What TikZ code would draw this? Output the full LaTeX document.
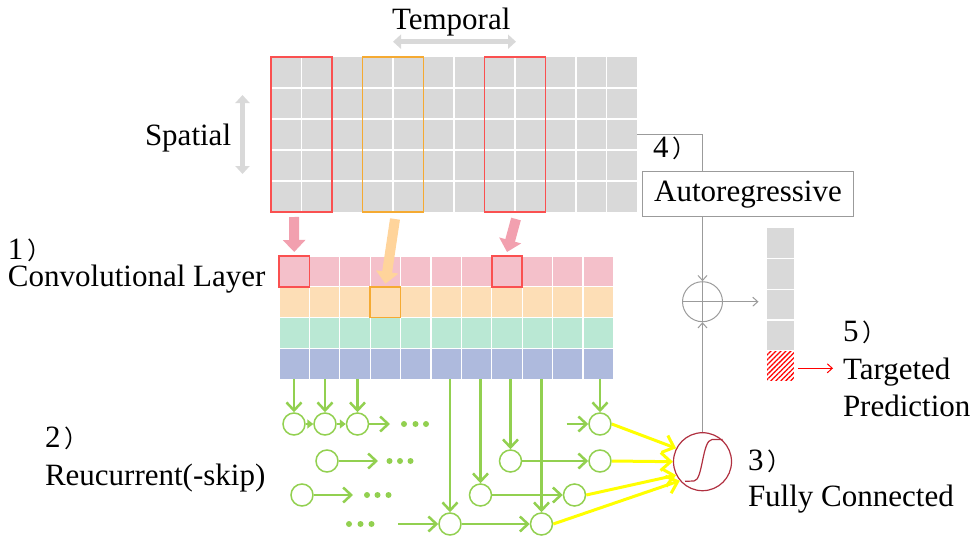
\documentclass[tikz,border=0pt]{standalone}
\usepackage{fontspec}
\setmainfont{Liberation Serif}
\newfontfamily\cjk{Noto Sans CJK SC}
\usetikzlibrary{arrows.meta,patterns.meta,calc}

% full-width closing parenthesis used after the step numbers
\newcommand{\numparen}{\kern4pt{\cjk\fontsize{24}{24}\selectfont ）}}

\definecolor{gridgray}{RGB}{217,217,217}
\definecolor{winred}{RGB}{250,80,80}
\definecolor{winorange}{RGB}{245,170,50}
\definecolor{pinkrow}{RGB}{244,192,202}
\definecolor{peachrow}{RGB}{253,222,182}
\definecolor{mintrow}{RGB}{186,232,212}
\definecolor{bluerow}{RGB}{174,186,221}
\definecolor{pinkarrow}{RGB}{242,160,175}
\definecolor{orangearrow}{RGB}{255,212,155}
\definecolor{rnngreen}{RGB}{146,208,80}
\definecolor{fcyellow}{RGB}{255,255,0}
\definecolor{linegray}{RGB}{155,155,155}
\definecolor{fcred}{RGB}{176,48,64}

\tikzset{
  lbl/.style={anchor=base west, inner sep=0pt, outer sep=0pt},
  cell/.style={draw=white, line width=1.2pt, minimum width=30.4pt, minimum height=30.8pt, inner sep=0pt, outer sep=0pt},
  ocell/.style={draw=white, line width=1.2pt, minimum width=28.3pt, minimum height=30.8pt, inner sep=0pt, outer sep=0pt},
  win/.style={draw=#1, line width=1.5pt, minimum width=61pt, minimum height=155pt, inner sep=0pt},
  blockarr/.style={draw=#1, line width=10pt, -{Triangle[length=12pt,width=22pt]}},
  spanarr/.style={draw=gridgray, line width=5pt, {Triangle[length=8pt,width=14pt]}-{Triangle[length=8pt,width=14pt]}},
  gc/.style={circle, draw=rnngreen, line width=1.5pt, minimum size=22pt, inner sep=0pt},
  garr/.style={draw=rnngreen, line width=2.5pt, -{Straight Barb[length=8pt,width=15pt]}},
  gsmall/.style={draw=rnngreen, line width=2pt, -{Triangle[length=6pt,width=9pt]}},
  gdot/.style={circle, fill=rnngreen, minimum size=6pt, inner sep=0pt},
  yarr/.style={draw=fcyellow, line width=3pt, -{Straight Barb[length=10pt,width=18pt]}},
  gline/.style={draw=linegray, line width=1pt},
  garrow/.style={gline, -{Straight Barb[length=5pt,width=9pt]}}
}

\begin{document}
\begin{tikzpicture}[x=1pt, y=-1pt, font=\fontsize{31}{36}\selectfont]
\useasboundingbox (0,0) rectangle (979,538);

% ---- input matrix (spatial x temporal) ----
\node[fill=gridgray, minimum width=366pt, minimum height=155pt, inner sep=0pt] (grid) at (454,134.5) {};
\foreach \i in {1,...,11} \draw[white, line width=1.2pt] ({271+30.5*\i},57) -- ++(0,155);
\foreach \y in {119,150,181} \draw[white, line width=1.2pt] (271,\y) -- ++(366,0);
\draw[white, line width=2.5pt] (271,88) -- ++(366,0);

\node[win=winred] (w1) at (301.5,134.5) {};
\node[win=winorange] (w2) at (393,134.5) {};
\node[win=winred] (w3) at (515,134.5) {};

\node[lbl] (temporal) at (392,29.3) {Temporal};
\draw[spanarr] (393,41.7) -- (516,41.7);
\node[lbl] (spatial) at (145,145) {Spatial};
\draw[spanarr] (242.5,95) -- (242.5,174);

% ---- convolutional layer ----
\foreach \r/\col in {0/pinkrow,1/peachrow,2/mintrow,3/bluerow}
  \foreach \c in {0,...,10}
    \node[cell, fill=\col] (c\r-\c) at ({279+30.4*\c+15.2},{256+30.8*\r+15.4}) {};
\draw[winred, line width=1.5pt] (c0-0.north west) rectangle (c0-0.south east);
\draw[winred, line width=1.5pt] (c0-7.north west) rectangle (c0-7.south east);
\draw[winorange, line width=1.5pt] (c1-3.north west) rectangle (c1-3.south east);

\coordinate (s1) at (294,217);
\coordinate (s2) at (395,219);
\coordinate (s3) at (516,219);
\draw[blockarr=pinkarrow] (s1) -- ([yshift=4pt]c0-0.north);
\draw[blockarr=pinkarrow] (s3) -- ([yshift=4pt]c0-7.north);
\draw[blockarr=orangearrow] (s2) -- ([yshift=3pt]c1-3.north);

\node[lbl] at (8,259.3) {1\numparen};
\node[lbl] at (8,286.7) {Convolutional Layer};

% ---- recurrent (skip) units ----
\node[gc] (a1) at (294,424) {};
\node[gc] (a2) at (325,424) {};
\node[gc] (a3) at (357.5,424) {};
\node[gc] (a4) at (600,424) {};
\node[gc] (b1) at (327,461) {};
\node[gc] (b2) at (510.5,461) {};
\node[gc] (b3) at (600,461) {};
\node[gc] (q1) at (302,495) {};
\node[gc] (q2) at (480.5,495) {};
\node[gc] (q3) at (574.5,495) {};
\node[gc] (d1) at (450,524) {};
\node[gc] (d2) at (541.5,524) {};

\foreach \n/\c in {a1/0,a2/1,a3/2,d1/5,q2/6,b2/7,d2/8,a4/10}
  \draw[garr] (\n.north |- c3-\c.south) -- (\n.north);

\draw[gsmall] (a1) -- (a2);
\draw[gsmall] (a2) -- (a3);

\coordinate (ae) at (390,424);
\coordinate (as) at (566.5,424);
\coordinate (be) at (378,461);
\coordinate (qe) at (353,495);
\coordinate (ds) at (398,524);
\draw[garr] (a3) -- (ae);
\draw[garr] (as) -- (a4);
\draw[garr] (b1) -- (be);
\draw[garr] (b2) -- (b3);
\draw[garr] (q1) -- (qe);
\draw[garr] (q2) -- (q3);
\draw[garr] (ds) -- (d1);
\draw[garr] (d1) -- (d2);

\foreach \x [count=\k] in {404,415.5,426} \node[gdot] (ad\k) at (\x,424) {};
\foreach \x [count=\k] in {389.5,400,410.5} \node[gdot] (bd\k) at (\x,461) {};
\foreach \x [count=\k] in {367,377.5,388.5} \node[gdot] (qd\k) at (\x,495) {};
\foreach \x [count=\k] in {349,360.5,371.5} \node[gdot] (dd\k) at (\x,524) {};

\node[lbl] at (45,447.7) {2\numparen};
\node[lbl] at (45,485) {Reucurrent(-skip)};

% ---- fully connected unit ----
\node[circle, draw=fcred, line width=1.2pt, minimum size=58pt, inner sep=0pt] (fc) at (702.5,461.7) {};
\draw[fcred, line width=1.2pt] (685,481.3) -- (694,481) .. controls (703,480.5) and (702,440) .. (712,439.5) -- (722.5,439.5);

\draw[yarr] (a4.east) -- (fc.153);
\draw[yarr] (b3.east) -- (fc.180);
\draw[yarr] (q3.east) -- (fc.207);
\draw[yarr] (d2.east) -- (fc.220);

\node[lbl] at (748,470) {3\numparen};
\node[lbl] at (748,506) {Fully Connected};

% ---- autoregressive branch ----
\node[draw=linegray, line width=1pt, minimum width=210.6pt, minimum height=45pt, inner sep=0pt] (ar) at (748,194.2) {Autoregressive};
\node[lbl] at (653,157.3) {4\numparen};

\node[circle, draw=linegray, line width=1pt, minimum size=40pt, inner sep=0pt] (plus) at (702.5,301.7) {};
\draw[gline] (plus.north) -- (plus.south);
\draw[gline] (plus.west) -- (plus.east);

\draw[gline] (grid.east) -| (plus |- ar.north);
\draw[garrow] (plus |- ar.south) -- (plus.north);
\draw[garrow] (fc.north) -- (plus.south);

% ---- output column ----
\foreach \i in {1,...,4}
  \node[ocell, fill=gridgray] (o\i) at (780.8,{227.5+30.8*(\i-0.5)}) {};
\node[ocell, pattern={Lines[angle=45,distance=3.5pt,line width=1.3pt]}, pattern color=red] (o5) at (780.8,{227.5+30.8*4.5}) {};

\coordinate (oin) at (758.5,301.7);
\draw[garrow] (plus.east) -- (oin);

\coordinate (tgt) at (833,368.3);
\draw[red, line width=1pt, -{Straight Barb[length=5pt,width=9pt]}] ([xshift=3pt]o5.east |- tgt) -- (tgt);

\node[lbl] at (843,341.7) {5\numparen};
\node[lbl] at (843,379.3) {Targeted};
\node[lbl] at (843,416) {Prediction};
\end{tikzpicture}
\end{document}
